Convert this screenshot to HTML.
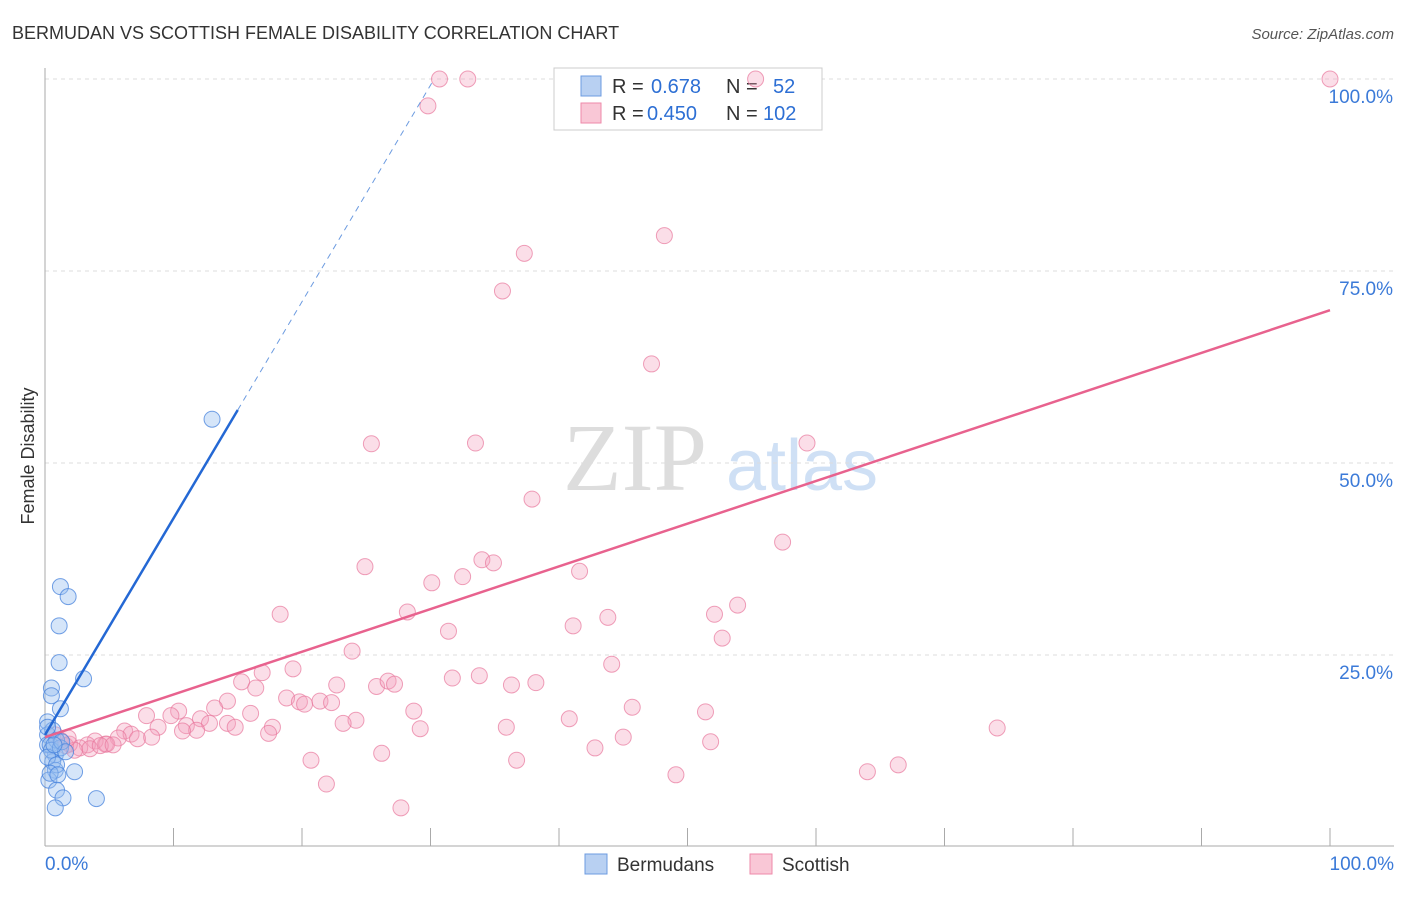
<!DOCTYPE html>
<html><head><meta charset="utf-8"><style>
body{margin:0;background:#fff;font-family:"Liberation Sans",sans-serif}
</style></head><body>
<svg id="c" width="1406" height="892" xmlns="http://www.w3.org/2000/svg">
<text x="12" y="39" font-size="18" fill="#333">BERMUDAN VS SCOTTISH FEMALE DISABILITY CORRELATION CHART</text>
<text x="1394" y="39" font-size="15" fill="#555" font-style="italic" text-anchor="end">Source: ZipAtlas.com</text>
<text x="34" y="456" font-size="18" fill="#333" transform="rotate(-90 34 456)" text-anchor="middle">Female Disability</text>
<g><text x="635" y="490" font-size="96" fill="#ddd" font-family="Liberation Serif" text-anchor="middle">ZIP</text><text x="802" y="490" font-size="72" fill="#cfe0f5" text-anchor="middle">atlas</text></g>
<g id="grid"></g><g id="axes"></g>
<g>
<rect x="554" y="68" width="268" height="62" fill="#fff" stroke="#ccc"/>
<rect x="581" y="76" width="20" height="20" fill="#b8d0f2" stroke="#6c9be0"/>
<rect x="581" y="103" width="20" height="20" fill="#f9c7d6" stroke="#ee8aa9"/>
<text x="612" y="93" font-size="20" fill="#333">R =</text>
<text x="651" y="93" font-size="20" fill="#2d6fd4">0.678</text>
<text x="726" y="93" font-size="20" fill="#333">N =</text>
<text x="773" y="93" font-size="20" fill="#2d6fd4">52</text>
<text x="612" y="120" font-size="20" fill="#333">R =</text>
<text x="647" y="120" font-size="20" fill="#2d6fd4">0.450</text>
<text x="726" y="120" font-size="20" fill="#333">N =</text>
<text x="763" y="120" font-size="20" fill="#2d6fd4">102</text>
</g>
<g id="marks"></g>
<g>
<rect x="585" y="854" width="22" height="20" fill="#b8d0f2" stroke="#6c9be0"/>
<text x="617" y="871" font-size="19" fill="#333">Bermudans</text>
<rect x="750" y="854" width="22" height="20" fill="#f9c7d6" stroke="#ee8aa9"/>
<text x="782" y="871" font-size="19" fill="#333">Scottish</text>
</g>
</svg>
<script>
const yTicks=[25,50,75,100];
const yTickLabels=["25.0%","50.0%","75.0%","100.0%"];
const xTickLabels=["0.0%","100.0%"];
const blueX=[1.2,1.8,1.1,1.1,3.0,0.5,0.5,1.2,0.2,0.2,0.2,0.8,0.6,0.8,2.3,0.3,0.9,1.4,4.0,0.8,13.0,0.4,0.9,0.5,1.2,0.2,0.9,0.4,1.0,0.6,1.3,0.2,1.6,0.7];
const blueY=[33.9,32.6,28.8,24.0,21.9,20.7,19.7,18.0,16.3,14.6,13.3,12.0,11.1,10.0,9.8,8.7,7.4,6.4,6.3,5.1,55.7,13.3,13.9,12.6,12.9,11.7,10.7,9.6,9.4,15.2,13.7,15.6,12.4,13.3];
const pinkX=[30.7,32.9,55.3,100,29.8,48.2,37.3,35.6,47.2,25.4,33.5,59.3,37.9,57.4,24.9,34.0,34.9,30.1,32.5,41.6,28.2,18.3,53.9,52.1,43.8,31.4,41.1,52.7,23.9,44.1,19.3,16.9,15.3,16.4,22.7,25.8,26.7,27.2,31.7,33.8,36.3,38.2,18.8,19.8,20.2,21.4,22.3,14.2,10.4,13.2,16.0,28.7,45.7,51.4,7.9,9.8,12.1,24.2,23.2,40.8,8.8,11.0,12.8,14.2,14.8,17.7,35.9,74.1,6.2,6.7,11.8,29.2,10.7,5.7,7.2,8.3,17.4,45.0,4.7,3.9,3.3,2.7,1.9,4.8,42.8,51.8,26.2,20.7,36.7,66.4,64.0,49.1,21.9,27.7,1.2,1.6,2.3,3.5,4.3,5.3,0.8,1.8];
const pinkY=[100,100,100,100,96.5,79.6,77.3,72.4,62.9,52.5,52.6,52.6,45.3,39.7,36.5,37.4,37.0,34.4,35.2,35.9,30.6,30.3,31.5,30.3,29.9,28.1,28.8,27.2,25.5,23.8,23.2,22.7,21.5,20.7,21.1,20.9,21.6,21.2,22.0,22.3,21.1,21.4,19.4,18.9,18.6,19.0,18.8,19.0,17.7,18.1,17.4,17.7,18.2,17.6,17.1,17.1,16.7,16.5,16.1,16.7,15.6,15.8,16.1,16.1,15.6,15.6,15.6,15.5,15.1,14.7,15.2,15.4,15.1,14.2,14.1,14.3,14.8,14.3,13.4,13.8,13.3,12.9,13.4,13.4,12.9,13.7,12.2,11.3,11.3,10.7,9.8,9.4,8.2,5.1,13.9,13.2,12.6,12.8,13.2,13.3,14.6,14.2];
const blueTrend=[14.6,2.82];
const pinkTrend=[14.3,69.9];
const NS="http://www.w3.org/2000/svg";
const X=v=>45+v*12.85, Y=v=>847-v*7.68;
function mk(t,a,p){const e=document.createElementNS(NS,t);for(const k in a)e.setAttribute(k,a[k]);document.getElementById(p).appendChild(e);return e;}
yTicks.forEach((t,i)=>{
 const g=mk('line',{x1:45,x2:1394,y1:Y(t),y2:Y(t),stroke:'#ddd','stroke-dasharray':'4,4'},'grid');
 
 
 const l=mk('text',{x:1393,y:Y(t)+24,'font-size':19,fill:'#3b7ad8','text-anchor':'end'},'axes');
 l.textContent=yTickLabels[i];
 
 
});
mk('line',{x1:45,x2:45,y1:68,y2:846,stroke:'#aaa'},'axes');
mk('line',{x1:45,x2:1394,y1:846,y2:846,stroke:'#aaa'},'axes');
for(let i=0;i<=10;i++){const t=mk('line',{x1:X(i*10),x2:X(i*10),y1:828,y2:846,stroke:'#aaa'},'axes');
 
 }
[[0,'start',45],[100,'end',1394]].forEach((d,i)=>{const l=mk('text',{x:d[2],y:870,'font-size':19,fill:'#3b7ad8','text-anchor':d[1]},'axes');l.textContent=xTickLabels[i];
 
 });
pinkX.forEach((v,i)=>{const c=mk('circle',{cx:X(v),cy:Y(pinkY[i]),r:8,fill:'rgba(244,160,188,0.35)',stroke:'rgba(232,120,156,0.7)'},'marks');
 
 });
blueX.forEach((v,i)=>{const c=mk('circle',{cx:X(v),cy:Y(blueY[i]),r:8,fill:'rgba(150,190,240,0.4)',stroke:'rgba(70,130,220,0.75)'},'marks');
 
 });
const bEnd=(100-blueTrend[0])/blueTrend[1];
const bl=mk('line',{x1:X(0),y1:Y(blueTrend[0]),x2:X(15),y2:Y(blueTrend[0]+15*blueTrend[1]),stroke:'#2468d4','stroke-width':2.5},'marks');


const bd=mk('line',{x1:X(15),y1:Y(blueTrend[0]+15*blueTrend[1]),x2:X(bEnd),y2:Y(100),stroke:'#6c9be0','stroke-width':1,'stroke-dasharray':'6,5'},'marks');


const pl=mk('line',{x1:X(0),y1:Y(pinkTrend[0]),x2:X(100),y2:Y(pinkTrend[1]),stroke:'#e8628e','stroke-width':2.5},'marks');


</script>
</body></html>
